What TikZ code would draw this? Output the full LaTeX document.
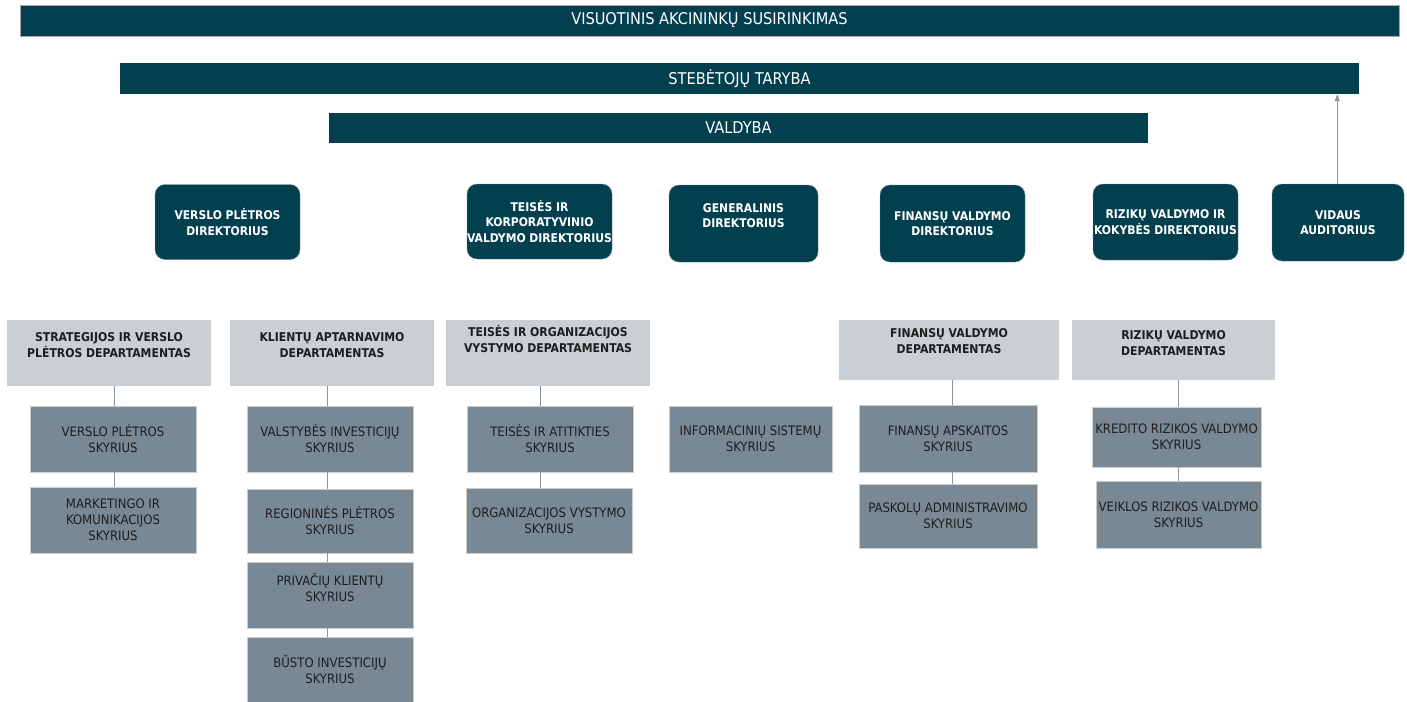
\documentclass[tikz,border=0pt]{standalone}
\usepackage{fontspec}
\setmainfont{DejaVu Sans Condensed}
\usetikzlibrary{arrows.meta}
\definecolor{teal}{HTML}{023F4F}
\definecolor{deptgray}{HTML}{CACFD3}
\definecolor{unitgray}{HTML}{798895}
\definecolor{linegray}{HTML}{8A97A3}
\definecolor{txtdark}{HTML}{1E1E1E}
\begin{document}
\begin{tikzpicture}[x=1pt,y=-1pt,
  bar/.style={fill=teal, draw=none, text=white, font=\fontsize{16.2}{18}\selectfont, inner sep=0pt, minimum height=31pt},
  dir/.style={fill=teal, draw=teal!60!white, line width=0.4pt, rounded corners=10pt, text=white, font=\bfseries\fontsize{12}{15.5}\selectfont, align=center, inner sep=0pt, minimum width=145pt, minimum height=75pt},
  dept/.style={fill=deptgray, draw=none, inner sep=0pt},
  depttext/.style={text=txtdark, font=\bfseries\fontsize{12.1}{16}\selectfont, align=center, anchor=north, inner sep=0pt},
  unit/.style={fill=unitgray, draw=gray!40, line width=0.5pt, text=txtdark, font=\fontsize{13}{16}\selectfont, align=center, inner sep=0pt, minimum width=166pt, minimum height=66pt},
  conn/.style={draw=linegray, line width=0.8pt},
]
\clip (0,0) rectangle (1407,701);
\fill[white] (0,0) rectangle (1407,701);

% top bars
\node[bar, draw=gray!70, line width=0.6pt, minimum width=1379pt] (vas) at (709.5,20.5) {VISUOTINIS AKCININKŲ SUSIRINKIMAS};
\node[bar, minimum width=1239pt] (st) at (739.5,78.5) {STEBĖTOJŲ TARYBA};
\node[bar, minimum width=819pt, minimum height=30pt] (val) at (738.5,128) {VALDYBA};

% directors
\node[dir] (d1) at (227.5,222) {VERSLO PLĖTROS\\DIREKTORIUS};
\node[dir] (d2) at (539.5,221.5) {TEISĖS IR\\KORPORATYVINIO\\VALDYMO DIREKTORIUS};
\node[dir, minimum width=149pt, minimum height=77pt] (d3) at (743.5,223.5) {GENERALINIS\\DIREKTORIUS\\[0pt]};
\node[dir, minimum height=77pt] (d4) at (952.5,223.5) {FINANSŲ VALDYMO\\DIREKTORIUS};
\node[dir, minimum height=76pt] (d5) at (1165.5,222) {RIZIKŲ VALDYMO IR\\KOKYBĖS DIREKTORIUS};
\node[dir, minimum width=132pt, minimum height=77pt] (d6) at (1338,222.5) {VIDAUS\\AUDITORIUS};
\draw[conn, -{Triangle[length=7pt,width=5pt]}] (d6.north -| st.south east) ++(-22,0) coordinate (a0) -- (a0 |- st.south);

% departments
\node[dept, minimum width=204pt, minimum height=66pt] (p1) at (109,353) {};
\node[depttext] (p1t) at ([yshift=-13pt]p1.north) {STRATEGIJOS IR VERSLO\\PLĖTROS DEPARTAMENTAS};
\node[dept, minimum width=204pt, minimum height=66pt] (p2) at (332,353) {};
\node[depttext] (p2t) at ([yshift=-13pt]p2.north) {KLIENTŲ APTARNAVIMO\\DEPARTAMENTAS};
\node[dept, minimum width=204pt, minimum height=66pt] (p3) at (548,353) {};
\node[depttext] (p3t) at ([yshift=-5pt]p3.north) {TEISĖS IR ORGANIZACIJOS\\VYSTYMO DEPARTAMENTAS};
\node[dept, minimum width=220pt, minimum height=60pt] (p4) at (949,350) {};
\node[depttext] (p4t) at ([yshift=-9pt]p4.north) {FINANSŲ VALDYMO\\DEPARTAMENTAS};
\node[dept, minimum width=203pt, minimum height=60pt] (p5) at (1173.5,350) {};
\node[depttext] (p5t) at ([yshift=-11pt]p5.north) {RIZIKŲ VALDYMO\\DEPARTAMENTAS};

% units
\node[unit] (u11) at (113,439) {VERSLO PLĖTROS\\SKYRIUS};
\node[unit] (u12) at (113,520) {MARKETINGO IR\\KOMUNIKACIJOS\\SKYRIUS};
\node[unit] (u21) at (330,439) {VALSTYBĖS INVESTICIJŲ\\SKYRIUS};
\node[unit, minimum height=64pt] (u22) at (330,521) {REGIONINĖS PLĖTROS\\SKYRIUS};
\node[unit] (u23) at (330,595) {PRIVAČIŲ KLIENTŲ\\SKYRIUS\\[0pt]};
\node[unit] (u24) at (330,670) {BŪSTO INVESTICIJŲ\\SKYRIUS};
\node[unit] (u31) at (550,439) {TEISĖS IR ATITIKTIES\\SKYRIUS};
\node[unit, minimum height=65pt] (u32) at (549,520.5) {ORGANIZACIJOS VYSTYMO\\SKYRIUS};
\node[unit, minimum width=163pt] (u41) at (750.5,439) {INFORMACINIŲ SISTEMŲ\\SKYRIUS};
\node[unit, minimum width=178pt, minimum height=67pt] (u51) at (948,438.5) {FINANSŲ APSKAITOS\\SKYRIUS};
\node[unit, minimum width=178pt, minimum height=64pt] (u52) at (948,516) {PASKOLŲ ADMINISTRAVIMO\\SKYRIUS};
\node[unit, minimum width=169pt, minimum height=60pt] (u61) at (1176.5,437) {KREDITO RIZIKOS VALDYMO\\SKYRIUS};
\node[unit, minimum width=165pt, minimum height=67pt] (u62) at (1178.5,514.5) {VEIKLOS RIZIKOS VALDYMO\\SKYRIUS};

% connectors
\draw[conn] (p1.south -| 114,0) coordinate (c1) -- (c1 |- u11.north);
\draw[conn] (c1 |- u11.south) -- (c1 |- u12.north);
\draw[conn] (p2.south -| 327,0) coordinate (c2) -- (c2 |- u21.north);
\draw[conn] (c2 |- u21.south) -- (c2 |- u22.north);
\draw[conn] (c2 |- u22.south) -- (c2 |- u23.north);
\draw[conn] (c2 |- u23.south) -- (c2 |- u24.north);
\draw[conn] (p3.south -| 540,0) coordinate (c3) -- (c3 |- u31.north);
\draw[conn] (c3 |- u31.south) -- (c3 |- u32.north);
\draw[conn] (p4.south -| 952,0) coordinate (c4) -- (c4 |- u51.north);
\draw[conn] (c4 |- u51.south) -- (c4 |- u52.north);
\draw[conn] (p5.south -| 1178,0) coordinate (c5) -- (c5 |- u61.north);
\draw[conn] (c5 |- u61.south) -- (c5 |- u62.north);
\end{tikzpicture}
\end{document}
